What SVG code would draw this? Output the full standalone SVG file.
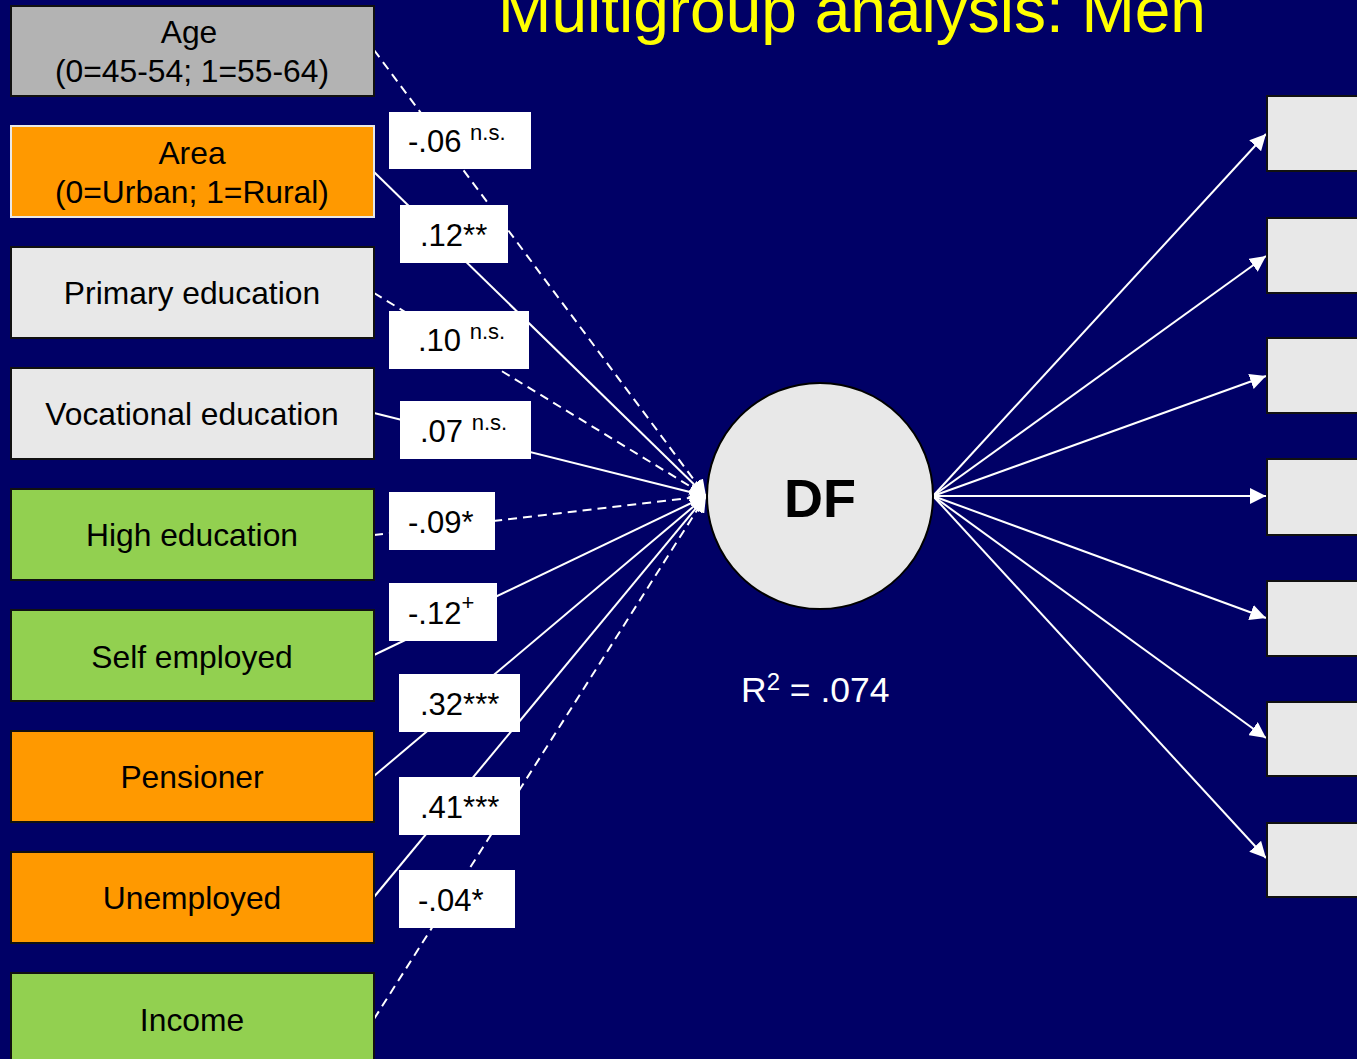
<svg xmlns="http://www.w3.org/2000/svg" width="1357" height="1059" viewBox="0 0 1357 1059">
  <defs>
    <marker id="arrow" viewBox="0 0 16 16" refX="16" refY="8" markerWidth="16" markerHeight="16" markerUnits="userSpaceOnUse" orient="auto">
      <path d="M0,0 L16,8 L0,16 z" fill="#ffffff"/>
    </marker>
    <style>
      .bg { fill: #000066; }
      .title { font-family: "Liberation Sans", Arial, sans-serif; font-size: 64px; fill: #ffff00; text-anchor: middle; }
      .box { stroke: #111111; stroke-width: 2; }
      .gray { fill: #b3b3b3; }
      .orange { fill: #ff9900; }
      .light { fill: #e8e8e8; }
      .green { fill: #92d050; }
      .boxtxt { font-family: "Liberation Sans", Arial, sans-serif; font-size: 31.8px; fill: #000000; text-anchor: middle; }
      .edge { stroke: #ffffff; stroke-width: 2; fill: none; marker-end: url(#arrow); }
      .dash { stroke-dasharray: 9 6; }
      .lbl { fill: #ffffff; }
      .lbltxt { font-family: "Liberation Sans", Arial, sans-serif; font-size: 31px; fill: #000000; }
      .sup { font-size: 22px; }
      .dftxt { font-family: "Liberation Sans", Arial, sans-serif; font-size: 54px; font-weight: bold; fill: #000000; text-anchor: middle; }
      .r2 { font-family: "Liberation Sans", Arial, sans-serif; font-size: 35.5px; fill: #ffffff; }
    </style>
  </defs>

  <rect class="bg" x="0" y="0" width="1357" height="1059"/>

  <text class="title" x="852" y="32">Multigroup analysis: Men</text>

  <!-- paths from predictors into DF and from DF to the indicators -->
  <g id="connectors">
    <line class="edge dash" x1="374" y1="50" x2="706" y2="496"/>
    <line class="edge" x1="374" y1="172" x2="706" y2="496"/>
    <line class="edge dash" x1="374" y1="293" x2="706" y2="496"/>
    <line class="edge" x1="374" y1="413" x2="706" y2="496"/>
    <line class="edge dash" x1="374" y1="535" x2="706" y2="496"/>
    <line class="edge" x1="374" y1="655" x2="706" y2="496"/>
    <line class="edge" x1="374" y1="776" x2="706" y2="496"/>
    <line class="edge" x1="374" y1="897" x2="706" y2="496"/>
    <line class="edge dash" x1="374" y1="1019" x2="706" y2="496"/>

    <line class="edge" x1="933" y1="496" x2="1266" y2="134"/>
    <line class="edge" x1="933" y1="496" x2="1266" y2="256"/>
    <line class="edge" x1="933" y1="496" x2="1266" y2="376"/>
    <line class="edge" x1="933" y1="496" x2="1266" y2="496"/>
    <line class="edge" x1="933" y1="496" x2="1266" y2="618"/>
    <line class="edge" x1="933" y1="496" x2="1266" y2="738"/>
    <line class="edge" x1="933" y1="496" x2="1266" y2="858"/>
  </g>

  <!-- coefficient labels -->
  <g id="coefficients">
    <rect class="lbl" x="389" y="112" width="142" height="57"/>
    <text class="lbltxt" x="408" y="152">-.06 <tspan class="sup" dy="-12">n.s.</tspan></text>
    <rect class="lbl" x="400" y="205" width="108" height="58"/>
    <text class="lbltxt" x="420" y="246">.12**</text>
    <rect class="lbl" x="389" y="311" width="140" height="58"/>
    <text class="lbltxt" x="418" y="351">.10 <tspan class="sup" dy="-12">n.s.</tspan></text>
    <rect class="lbl" x="400" y="401" width="131" height="58"/>
    <text class="lbltxt" x="420" y="442">.07 <tspan class="sup" dy="-12">n.s.</tspan></text>
    <rect class="lbl" x="389" y="492" width="106" height="58"/>
    <text class="lbltxt" x="408" y="533">-.09*</text>
    <rect class="lbl" x="389" y="583" width="108" height="58"/>
    <text class="lbltxt" x="408" y="624">-.12<tspan class="sup" dy="-14">+</tspan></text>
    <rect class="lbl" x="399" y="674" width="121" height="58"/>
    <text class="lbltxt" x="420" y="715">.32***</text>
    <rect class="lbl" x="399" y="777" width="121" height="58"/>
    <text class="lbltxt" x="420" y="818">.41***</text>
    <rect class="lbl" x="399" y="870" width="116" height="58"/>
    <text class="lbltxt" x="418" y="911">-.04*</text>
  </g>

  <!-- predictor nodes -->
  <g id="node-age">
    <rect class="box gray" x="11" y="6" width="363" height="90"/>
    <text class="boxtxt" x="189" y="43">Age</text>
    <text class="boxtxt" x="192" y="82">(0=45-54; 1=55-64)</text>
  </g>
  <g id="node-area">
    <rect class="orange" x="11" y="126" width="363" height="91" stroke="#e8e8e8" stroke-width="2"/>
    <text class="boxtxt" x="192" y="164">Area</text>
    <text class="boxtxt" x="192" y="203">(0=Urban; 1=Rural)</text>
  </g>
  <g id="node-primary">
    <rect class="box light" x="11" y="247" width="363" height="91"/>
    <text class="boxtxt" x="192" y="304">Primary education</text>
  </g>
  <g id="node-vocational">
    <rect class="box light" x="11" y="368" width="363" height="91"/>
    <text class="boxtxt" x="192" y="425">Vocational education</text>
  </g>
  <g id="node-high">
    <rect class="box green" x="11" y="489" width="363" height="91"/>
    <text class="boxtxt" x="192" y="546">High education</text>
  </g>
  <g id="node-self">
    <rect class="box green" x="11" y="610" width="363" height="91"/>
    <text class="boxtxt" x="192" y="668">Self employed</text>
  </g>
  <g id="node-pensioner">
    <rect class="box orange" x="11" y="731" width="363" height="91"/>
    <text class="boxtxt" x="192" y="788">Pensioner</text>
  </g>
  <g id="node-unemployed">
    <rect class="box orange" x="11" y="852" width="363" height="91"/>
    <text class="boxtxt" x="192" y="909">Unemployed</text>
  </g>
  <g id="node-income">
    <rect class="box green" x="11" y="973" width="363" height="100"/>
    <text class="boxtxt" x="192" y="1031">Income</text>
  </g>

  <!-- latent factor -->
  <g id="node-df">
    <circle cx="820" cy="496" r="113" fill="#e8e8e8" stroke="#000000" stroke-width="2"/>
    <text class="dftxt" x="820" y="517">DF</text>
    <text class="r2" x="741" y="702">R<tspan font-size="24" dy="-12">2</tspan><tspan dy="12"> = .074</tspan></text>
  </g>

  <!-- indicator nodes -->
  <g id="node-ind1"><rect class="box light" x="1267" y="96" width="100" height="75"/></g>
  <g id="node-ind2"><rect class="box light" x="1267" y="218" width="100" height="75"/></g>
  <g id="node-ind3"><rect class="box light" x="1267" y="338" width="100" height="75"/></g>
  <g id="node-ind4"><rect class="box light" x="1267" y="459" width="100" height="76"/></g>
  <g id="node-ind5"><rect class="box light" x="1267" y="581" width="100" height="75"/></g>
  <g id="node-ind6"><rect class="box light" x="1267" y="702" width="100" height="74"/></g>
  <g id="node-ind7"><rect class="box light" x="1267" y="823" width="100" height="74"/></g>
</svg>
